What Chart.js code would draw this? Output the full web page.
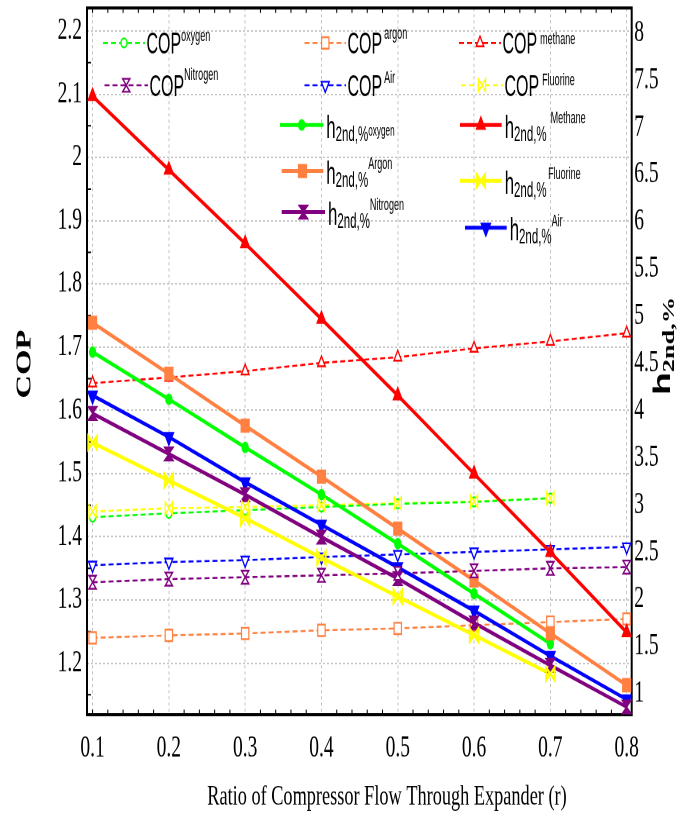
<!DOCTYPE html>
<html>
<head>
<meta charset="utf-8">
<title>COP and second-law efficiency versus expander flow ratio</title>
<script src="https://cdn.jsdelivr.net/npm/chart.js@4.4.1/dist/chart.umd.min.js"></script>
<style>
  html, body { margin: 0; padding: 0; background: #fff; width: 678px; height: 817px; }
  /* the figure is drawn on a short canvas and stretched vertically */
  #stage { width: 678px; height: 527px; transform: scaleY(1.55028); transform-origin: 0 0; }
  canvas { display: block; }
</style>
</head>
<body>
<div id="stage"><canvas id="chart" width="678" height="527"></canvas></div>
<script>
// ratio of compressor flow through the expander (r)
const ratio = [0.1, 0.2, 0.3, 0.4, 0.5, 0.6, 0.7, 0.8];
const copTicks = [1.2, 1.3, 1.4, 1.5, 1.6, 1.7, 1.8, 1.9, 2.0, 2.1, 2.2];
const etaTicks = [1, 1.5, 2, 2.5, 3, 3.5, 4, 4.5, 5, 5.5, 6, 6.5, 7, 7.5, 8];

// coefficient of performance (left axis)
const copOxygen   = [1.431, 1.437, 1.442, 1.447, 1.452, 1.455, 1.461];
const copArgon    = [1.240, 1.244, 1.247, 1.252, 1.255, 1.260, 1.265, 1.270];
const copMethane  = [1.643, 1.652, 1.662, 1.675, 1.684, 1.698, 1.709, 1.722];
const copNitrogen = [1.328, 1.333, 1.336, 1.339, 1.342, 1.346, 1.350, 1.352];
const copAir      = [1.355, 1.360, 1.363, 1.368, 1.372, 1.376, 1.380, 1.384];
const copFluorine = [1.440, 1.445, 1.447, 1.450, 1.453, 1.456, 1.461];

// second-law efficiency in % (right axis)
const etaOxygen   = [4.62, 4.12, 3.61, 3.11, 2.59, 2.06, 1.53];
const etaArgon    = [4.93, 4.39, 3.84, 3.30, 2.75, 2.20, 1.64, 1.09];
const etaMethane  = [7.33, 6.55, 5.77, 4.97, 4.16, 3.33, 2.50, 1.65];
const etaNitrogen = [3.97, 3.54, 3.11, 2.66, 2.22, 1.75, 1.30, 0.86];
const etaAir      = [4.16, 3.72, 3.24, 2.79, 2.34, 1.88, 1.40, 0.94];
const etaFluorine = [3.66, 3.26, 2.86, 2.44, 2.03, 1.62, 1.21];

const GREEN = '#00ff00', ORANGE = '#ff8040', RED = '#ff0000',
      PURPLE = '#800080', BLUE = '#0000ff', YELLOW = '#ffff00';
const SANS = '"Liberation Sans", Arial, sans-serif';
const SERIF = '"Liberation Serif", "Times New Roman", serif';
const NARROW = 0.82;

const MARK = {
  etaOxygen:   { style: 'circle',       r: 3.2, fill: GREEN,  stroke: GREEN,  lw: 1 },
  etaArgon:    { style: 'rect',         r: 5.8, fill: ORANGE, stroke: ORANGE, lw: 1 },
  etaMethane:  { style: 'triangle',     r: 5.2, fill: RED,    stroke: RED,    lw: 1 },
  etaAir:      { style: 'triangleDown', r: 5.5, fill: BLUE,   stroke: BLUE,   lw: 1 },
  etaNitrogen: { style: 'hourglass', w: 4.5, h: 4.3, fill: PURPLE, stroke: PURPLE, lw: 1 },
  etaFluorine: { style: 'bowtie',    w: 4.2, h: 4.0, fill: null,   stroke: YELLOW, lw: 2 },
  copOxygen:   { style: 'circle',       r: 3.0, fill: '#fff', stroke: GREEN,  lw: 1.2 },
  copArgon:    { style: 'rect',         r: 5.2, fill: '#fff', stroke: ORANGE, lw: 1.2 },
  copMethane:  { style: 'triangle',     r: 4.4, fill: '#fff', stroke: RED,    lw: 1.2 },
  copAir:      { style: 'triangleDown', r: 4.6, fill: '#fff', stroke: BLUE,   lw: 1.2 },
  copNitrogen: { style: 'hourglass', w: 3.6, h: 4.2, fill: '#fff', stroke: PURPLE, lw: 1.2 },
  copFluorine: { style: 'bowtie',    w: 3.6, h: 4.0, fill: '#fff', stroke: YELLOW, lw: 1.2 }
};

function series(vals) { return vals.map((v, i) => ({ x: ratio[i], y: v })); }

function pointOpts(m) {
  if (m.style === 'hourglass' || m.style === 'bowtie') {
    return { pointRadius: 0, pointHoverRadius: 0, customMarker: m };
  }
  const down = m.style === 'triangleDown';
  return {
    pointStyle: down ? 'triangle' : m.style, pointRotation: down ? 180 : 0,
    pointRadius: m.r, pointHoverRadius: m.r,
    pointBackgroundColor: m.fill, pointBorderColor: m.stroke, pointBorderWidth: m.lw
  };
}

function etaSet(label, vals, color, m) {
  return Object.assign({
    label, data: series(vals), yAxisID: 'yEta',
    borderColor: color, backgroundColor: color, borderWidth: 2.5, tension: 0
  }, pointOpts(m));
}
function copSet(label, vals, color, m) {
  return Object.assign({
    label, data: series(vals), yAxisID: 'yCop',
    borderColor: color, backgroundColor: color, borderWidth: 1.3, borderDash: [5, 3], tension: 0
  }, pointOpts(m));
}

// marker shapes shared by the plot and the legend
function drawSymbol(ctx, m, x, y) {
  ctx.save();
  ctx.setLineDash([]);
  ctx.lineWidth = m.lw;
  ctx.strokeStyle = m.stroke;
  ctx.beginPath();
  if (m.style === 'hourglass') {
    ctx.moveTo(x - m.w, y - m.h); ctx.lineTo(x + m.w, y - m.h);
    ctx.lineTo(x - m.w, y + m.h); ctx.lineTo(x + m.w, y + m.h);
    ctx.closePath();
  } else if (m.style === 'bowtie') {
    ctx.moveTo(x - m.w, y - m.h); ctx.lineTo(x + m.w, y + m.h);
    ctx.lineTo(x + m.w, y - m.h); ctx.lineTo(x - m.w, y + m.h);
    ctx.closePath();
  } else if (m.style === 'circle') {
    ctx.arc(x, y, m.r, 0, Math.PI * 2);
  } else if (m.style === 'rect') {
    const s = Math.SQRT1_2 * m.r;
    ctx.rect(x - s, y - s, 2 * s, 2 * s);
  } else {
    const d = m.style === 'triangleDown' ? -1 : 1;
    const hw = m.r * Math.sin(Math.PI / 3);
    ctx.moveTo(x, y - d * m.r);
    ctx.lineTo(x + hw, y + d * m.r / 2);
    ctx.lineTo(x - hw, y + d * m.r / 2);
    ctx.closePath();
  }
  if (m.fill) { ctx.fillStyle = m.fill; ctx.fill(); }
  ctx.stroke();
  ctx.restore();
}

// writes a run of text pieces left to right, each narrowed horizontally
function textRun(ctx, x, y, parts) {
  let cx = x;
  for (const p of parts) {
    cx += p.gap || 0;
    ctx.font = (p.bold ? 'bold ' : '') + p.size + 'px ' + (p.family || SANS);
    const k = p.k === undefined ? NARROW : p.k;
    ctx.save();
    ctx.translate(cx, y + (p.dy || 0));
    ctx.scale(k, 1);
    ctx.fillText(p.t, 0, 0);
    ctx.restore();
    cx += ctx.measureText(p.t).width * k;
  }
  return cx;
}

const copLegend = [
  { text: 'oxygen',   mark: MARK.copOxygen,   color: GREEN,  x0: 103,   x1: 145, y: 27.7, gap: 0, supDy: -1.3 },
  { text: 'argon',    mark: MARK.copArgon,    color: ORANGE, x0: 304.5, x1: 346, y: 27.7, gap: 2, supDy: -2.5 },
  { text: 'methane',  mark: MARK.copMethane,  color: RED,    x0: 459,   x1: 501, y: 27.7, gap: 3, supDy: 0.7 },
  { text: 'Nitrogen', mark: MARK.copNitrogen, color: PURPLE, x0: 104.5, x1: 148, y: 55,   gap: 0, supDy: -3.4 },
  { text: 'Air',      mark: MARK.copAir,      color: BLUE,   x0: 304.5, x1: 346, y: 55,   gap: 2, supDy: -1.5 },
  { text: 'Fluorine', mark: MARK.copFluorine, color: YELLOW, x0: 461,   x1: 503, y: 55,   gap: 3, supDy: -0.2 }
];
const etaLegend = [
  { text: 'oxygen',   mode: 'sub', mark: MARK.etaOxygen,   color: GREEN,  x0: 280,   x1: 323.3, y: 80.6,  gap: 0 },
  { text: 'Methane',  mode: 'sup', mark: MARK.etaMethane,  color: RED,    x0: 460,   x1: 501.7, y: 80.6,  gap: 4 },
  { text: 'Argon',    mode: 'sup', mark: MARK.etaArgon,    color: ORANGE, x0: 281.7, x1: 323.3, y: 110.3, gap: 0 },
  { text: 'Fluorine', mode: 'sup', mark: MARK.etaFluorine, color: YELLOW, x0: 460,   x1: 501.7, y: 116.6, gap: 1.5 },
  { text: 'Nitrogen', mode: 'sup', mark: MARK.etaNitrogen, color: PURPLE, x0: 281.7, x1: 325,   y: 136.8, gap: 0 },
  { text: 'Air',      mode: 'sup', mark: MARK.etaAir,      color: BLUE,   x0: 465,   x1: 506.7, y: 146.9, gap: 0 }
];

const whiteBackground = {
  id: 'whiteBackground',
  beforeDraw(chart) {
    const { ctx, width, height } = chart;
    ctx.save(); ctx.fillStyle = '#fff'; ctx.fillRect(0, 0, width, height); ctx.restore();
  }
};

// box around the plot with small inward tick marks
const plotFrame = {
  id: 'plotFrame',
  beforeDatasetsDraw(chart) {
    const { ctx, chartArea: a, scales } = chart;
    ctx.save();
    ctx.strokeStyle = '#000';
    ctx.lineWidth = 1;
    ctx.beginPath();
    for (let i = 0; i <= 35; i++) {
      const v = Math.round((0.1 + i * 0.02) * 100) / 100;
      if (i > 0 && i % 5 === 0) continue;
      const px = scales.x.getPixelForValue(v);
      ctx.moveTo(px, a.bottom); ctx.lineTo(px, a.bottom - 3.2);
      ctx.moveTo(px, a.top); ctx.lineTo(px, a.top + 3.2);
    }
    for (let i = 0; i <= 10; i++) {
      const py = scales.yCop.getPixelForValue(1.15 + i * 0.1);
      ctx.moveTo(a.left, py); ctx.lineTo(a.left + 4, py);
    }
    ctx.stroke();
    ctx.lineWidth = 2;
    ctx.strokeRect(a.left, a.top, a.right - a.left, a.bottom - a.top);
    ctx.restore();
  }
};

// hourglass and bowtie markers at the points the line controller placed
const customMarkers = {
  id: 'customMarkers',
  afterDatasetsDraw(chart) {
    const ctx = chart.ctx;
    chart.data.datasets.forEach((ds, i) => {
      if (!ds.customMarker) return;
      chart.getDatasetMeta(i).data.forEach(pt => drawSymbol(ctx, ds.customMarker, pt.x, pt.y));
    });
  }
};

const titlesAndLegend = {
  id: 'titlesAndLegend',
  afterDraw(chart) {
    const ctx = chart.ctx;
    ctx.save();
    ctx.fillStyle = '#000';

    // x-axis title
    ctx.font = '18.3px ' + SERIF;
    ctx.textAlign = 'center';
    ctx.textBaseline = 'middle';
    ctx.fillText('Ratio of Compressor Flow Through Expander (r)', 387, 514.2);

    // left axis title
    ctx.save();
    ctx.translate(25, 234.8);
    ctx.rotate(-Math.PI / 2);
    ctx.font = 'bold 21px ' + SERIF;
    ctx.fillText('COP', 0, 0);
    ctx.restore();

    // right axis title
    ctx.textAlign = 'left';
    ctx.textBaseline = 'alphabetic';
    ctx.save();
    ctx.translate(670, 254.8);
    ctx.rotate(-Math.PI / 2);
    textRun(ctx, 0, 0, [
      { t: 'h', size: 24, bold: true, k: 1 },
      { t: '2nd,%', size: 17, bold: true, family: SERIF, k: 1, dy: 4 }
    ]);
    ctx.restore();

    // legend: COP entries
    for (const e of copLegend) {
      ctx.save();
      ctx.strokeStyle = e.color; ctx.lineWidth = 1.3; ctx.setLineDash([5, 3]);
      ctx.beginPath(); ctx.moveTo(e.x0, e.y); ctx.lineTo(e.x1, e.y); ctx.stroke();
      ctx.restore();
      drawSymbol(ctx, e.mark, (e.x0 + e.x1) / 2, e.y);
      ctx.fillStyle = '#000';
      const end = textRun(ctx, e.x1 + 1.5, e.y + 6.8, [{ t: 'COP', size: 19.5 }]);
      textRun(ctx, end + e.gap, e.y + e.supDy, [{ t: e.text, size: 11 }]);
    }

    // legend: efficiency entries
    for (const e of etaLegend) {
      ctx.save();
      ctx.strokeStyle = e.color; ctx.lineWidth = 2.5; ctx.setLineDash([]);
      ctx.beginPath(); ctx.moveTo(e.x0, e.y); ctx.lineTo(e.x1, e.y); ctx.stroke();
      ctx.restore();
      drawSymbol(ctx, e.mark, (e.x0 + e.x1) / 2, e.y);
      ctx.fillStyle = '#000';
      const base = e.y + 8.2;
      const end = textRun(ctx, e.x1 + 3, base, [
        { t: 'h', size: 20.5 },
        { t: '2nd,%', size: 14, dy: 2 }
      ]);
      textRun(ctx, end + e.gap, base + (e.mode === 'sub' ? -1.3 : -9.3), [{ t: e.text, size: e.mode === 'sub' ? 10 : 11 }]);
    }
    ctx.restore();
  }
};

const tickFont = { family: SERIF, size: 19.5 };
const gridStyle = { color: '#c4c4c4', lineWidth: 1, drawTicks: false };

new Chart(document.getElementById('chart'), {
  type: 'line',
  data: {
    datasets: [
      etaSet('η2nd,% Methane',  etaMethane,  RED,    MARK.etaMethane),
      etaSet('η2nd,% Argon',    etaArgon,    ORANGE, MARK.etaArgon),
      etaSet('η2nd,% oxygen',   etaOxygen,   GREEN,  MARK.etaOxygen),
      etaSet('η2nd,% Air',      etaAir,      BLUE,   MARK.etaAir),
      etaSet('η2nd,% Nitrogen', etaNitrogen, PURPLE, MARK.etaNitrogen),
      etaSet('η2nd,% Fluorine', etaFluorine, YELLOW, MARK.etaFluorine),
      copSet('COP methane',  copMethane,  RED,    MARK.copMethane),
      copSet('COP oxygen',   copOxygen,   GREEN,  MARK.copOxygen),
      copSet('COP Fluorine', copFluorine, YELLOW, MARK.copFluorine),
      copSet('COP Air',      copAir,      BLUE,   MARK.copAir),
      copSet('COP Nitrogen', copNitrogen, PURPLE, MARK.copNitrogen),
      copSet('COP argon',    copArgon,    ORANGE, MARK.copArgon)
    ]
  },
  options: {
    responsive: false,
    animation: false,
    devicePixelRatio: 2,
    events: [],
    layout: { padding: { top: 5.16, left: 0, right: 0, bottom: 0 }, autoPadding: false },
    plugins: { legend: { display: false }, tooltip: { enabled: false } },
    scales: {
      x: {
        type: 'linear', position: 'bottom', min: 0.0927, max: 0.8066,
        afterBuildTicks: s => { s.ticks = ratio.map(v => ({ value: v })); },
        afterFit: s => { s.height = 66; s.paddingLeft = 0; s.paddingRight = 0; },
        grid: gridStyle,
        border: { display: false, dash: [2, 2] },
        ticks: { padding: 10, color: '#000', font: tickFont, maxRotation: 0, autoSkip: false, callback: v => String(v) }
      },
      yCop: {
        type: 'linear', position: 'left', min: 1.1185, max: 2.2364,
        afterBuildTicks: s => { s.ticks = copTicks.map(v => ({ value: v })); },
        afterFit: s => { s.width = 87; s.paddingTop = 0; s.paddingBottom = 0; },
        grid: gridStyle,
        border: { display: false, dash: [2, 2] },
        ticks: { padding: 5, color: '#000', font: tickFont, autoSkip: false, callback: v => String(v) }
      },
      yEta: {
        type: 'linear', position: 'right', min: 0.778, max: 8.265,
        afterBuildTicks: s => { s.ticks = etaTicks.map(v => ({ value: v })); },
        afterFit: s => { s.width = 46.3; s.paddingTop = 0; s.paddingBottom = 0; },
        grid: { display: false, drawTicks: false },
        border: { display: false },
        ticks: { padding: 2.5, color: '#000', font: tickFont, autoSkip: false, callback: v => String(v) }
      }
    }
  },
  plugins: [whiteBackground, plotFrame, customMarkers, titlesAndLegend]
});
</script>
</body>
</html>
